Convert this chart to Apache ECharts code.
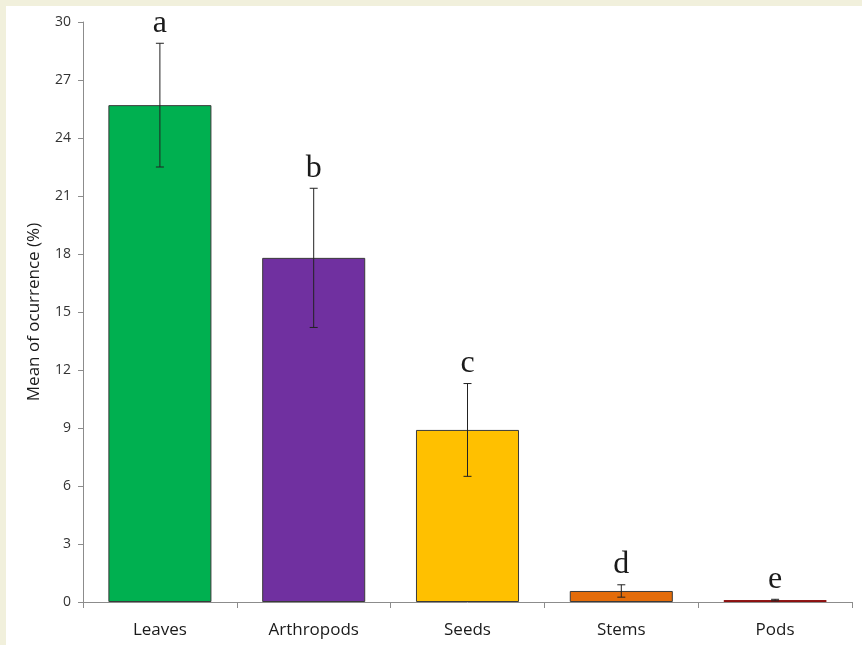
<!DOCTYPE html>
<html>
<head>
<meta charset="utf-8">
<script src="https://cdn.jsdelivr.net/npm/echarts@6/dist/echarts.min.js"></script>
<style>
  html, body { margin: 0; padding: 0; background: #f1f0dc; }
  #chart { width: 862px; height: 645px; }
</style>
</head>
<body>
<div id="chart"></div>
<script>
// Diet items and their mean occurrence (%) with standard error
const categories = ['Leaves', 'Arthropods', 'Seeds', 'Stems', 'Pods'];
const means = [25.7, 17.8, 8.9, 0.57, 0.1];
const errors = [3.2, 3.6, 2.4, 0.32, 0.04];
const groupLetters = ['a', 'b', 'c', 'd', 'e'];
const barColors = ['#00b050', '#7030a0', '#ffc000', '#e46c0a', '#c00000'];
const barBorders = ['#3a3a3a', '#3a3a3a', '#3a3a3a', '#3a3a3a', '#8b1010'];
const yTicks = [0, 3, 6, 9, 12, 15, 18, 21, 24, 27, 30];

const chart = echarts.init(document.getElementById('chart'), null, { renderer: 'canvas' });

const errorData = categories.map((c, i) => [i, means[i] - errors[i], means[i] + errors[i]]);

chart.setOption({
  backgroundColor: '#f1f0dc',
  animation: false,
  graphic: [{
    type: 'rect', z: -10, silent: true,
    shape: { x: 6, y: 6, width: 862, height: 645 },
    style: { fill: '#ffffff' }
  }],
  grid: { left: 83, right: 10, top: 22, bottom: 43, containLabel: false },
  xAxis: {
    type: 'category',
    data: categories,
    axisLine: { lineStyle: { color: '#8c8c8c', width: 1 } },
    axisTick: { show: true, length: 6, lineStyle: { color: '#8c8c8c' } },
    axisLabel: { color: '#1a1a1a', fontSize: 17, fontFamily: 'Open Sans', margin: 20 }
  },
  yAxis: {
    type: 'value',
    min: yTicks[0], max: yTicks[yTicks.length - 1], interval: 3,
    name: 'Mean of ocurrence (%)',
    nameLocation: 'middle', nameGap: 40,
    nameTextStyle: { color: '#1a1a1a', fontSize: 17, fontFamily: 'Open Sans' },
    axisLine: { show: true, lineStyle: { color: '#8c8c8c', width: 1 } },
    axisTick: { show: true, length: 5, lineStyle: { color: '#8c8c8c' } },
    splitLine: { show: false },
    axisLabel: { color: '#333333', fontSize: 14, fontFamily: 'Open Sans', margin: 12 }
  },
  series: [
    {
      type: 'bar',
      data: means.map((v, i) => ({ value: v, itemStyle: { color: barColors[i], borderColor: barBorders[i] } })),
      barWidth: '67%',
      itemStyle: { borderWidth: 1 }
    },
    {
      type: 'custom',
      data: errorData,
      z: 5,
      renderItem: function (params, api) {
        const x = api.coord([api.value(0), 0])[0];
        const lo = api.coord([api.value(0), api.value(1)])[1];
        const hi = api.coord([api.value(0), api.value(2)])[1];
        const cap = 4;
        const st = { stroke: '#222222', lineWidth: 1 };
        const idx = params.dataIndex;
        return {
          type: 'group',
          children: [
            { type: 'line', shape: { x1: x, y1: hi, x2: x, y2: lo }, style: st },
            { type: 'line', shape: { x1: x - cap, y1: hi, x2: x + cap, y2: hi }, style: st },
            { type: 'line', shape: { x1: x - cap, y1: lo, x2: x + cap, y2: lo }, style: st },
            {
              type: 'text',
              style: {
                text: groupLetters[idx], x: x, y: hi - 4,
                align: 'center', verticalAlign: 'bottom',
                fontFamily: 'Liberation Serif', fontSize: 32, fill: '#1a1a1a'
              }
            }
          ]
        };
      }
    }
  ]
});
</script>
</body>
</html>
